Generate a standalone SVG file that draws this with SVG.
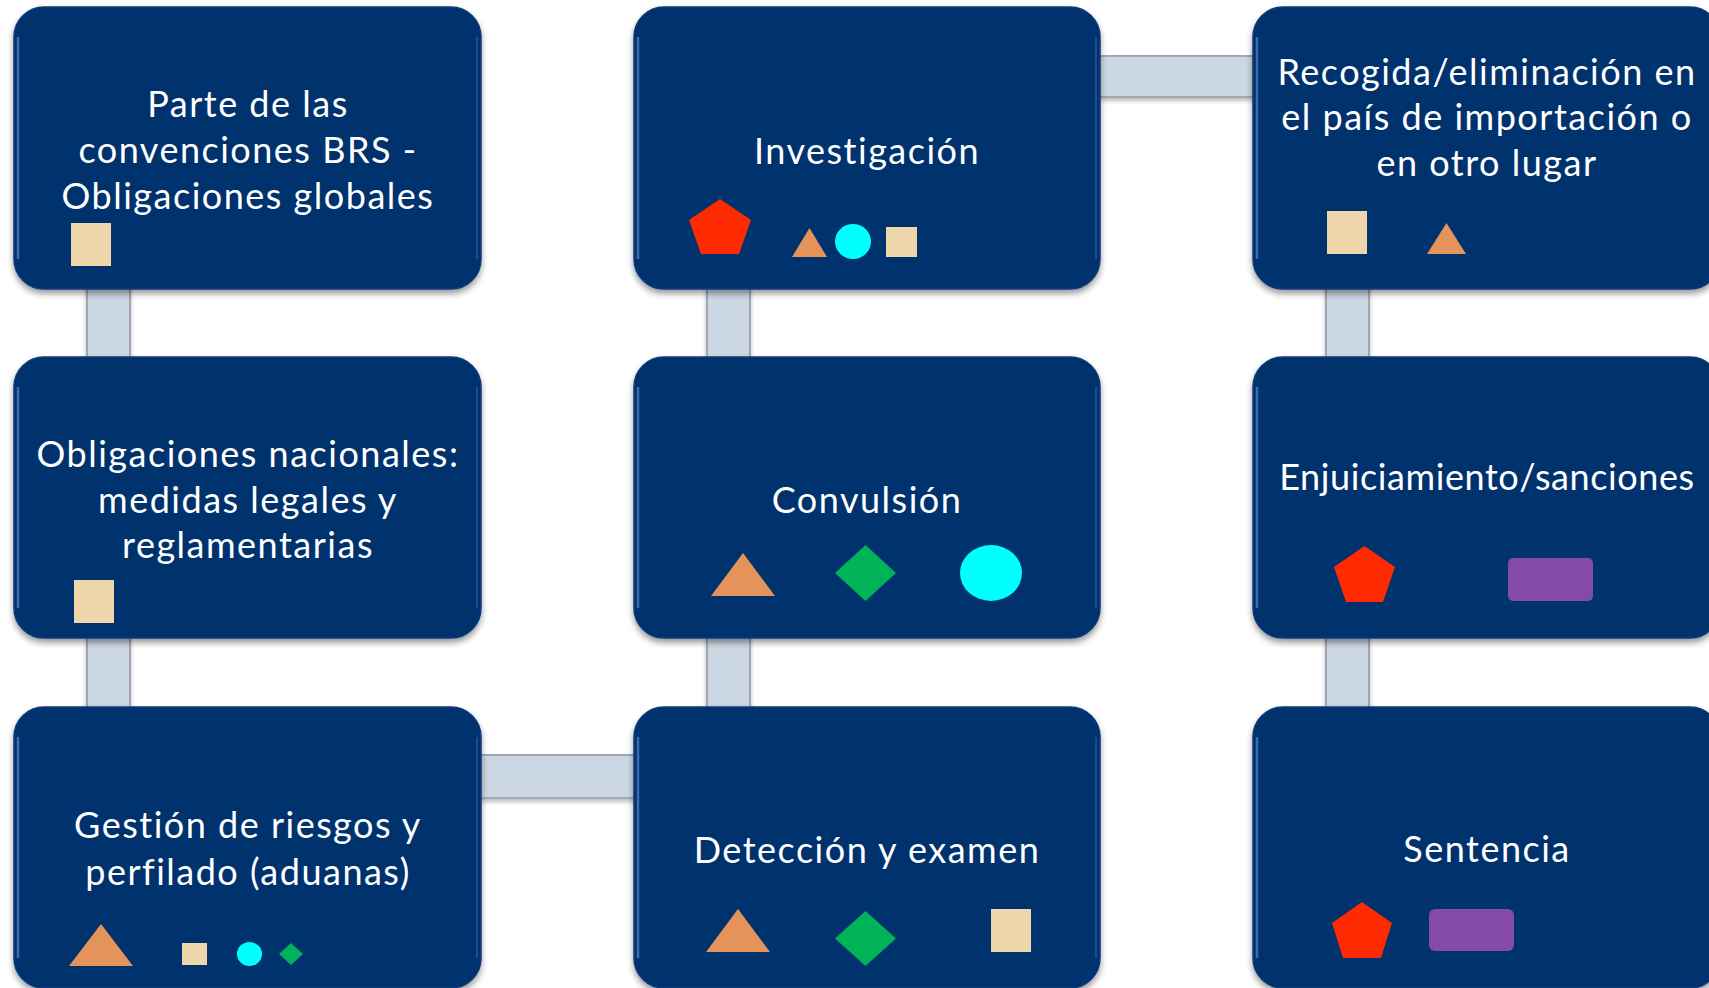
<svg xmlns="http://www.w3.org/2000/svg" width="1709" height="988" viewBox="0 0 1709 988">
<defs>
<filter id="sh" x="-5%" y="-5%" width="110%" height="115%">
<feDropShadow dx="0" dy="4" stdDeviation="3" flood-color="#000" flood-opacity="0.4"/>
</filter>
<filter id="csh" x="-10%" y="-10%" width="120%" height="130%">
<feDropShadow dx="0" dy="3" stdDeviation="2" flood-color="#000" flood-opacity="0.25"/>
</filter>
<style>
.box{fill:#00306E;stroke:#0a3a7a;stroke-width:1.5;filter:url(#sh)}
.hl{fill:none;stroke:#4f78b8;stroke-width:2.5;stroke-opacity:0.8}
.hr{fill:none;stroke:#3c66a8;stroke-width:1.5;stroke-opacity:0.7}
.con{fill:#CBD7E2;stroke:#9FA8B2;stroke-width:2;filter:url(#csh)}
.t{font-family:"Lato","Liberation Sans",sans-serif;font-size:36px;fill:#fff;text-anchor:middle;letter-spacing:1.5px}
.tan{fill:#EDD7AA}
.org{fill:#E4935A}
.cyn{fill:#00FFFF}
.grn{fill:#00B359}
.red{fill:#FF2A00}
.pur{fill:#8549AA}
</style>
</defs>
<rect width="1709" height="988" fill="#fff"/>
<g id="connectors">
<rect class="con" x="87" y="280" width="43" height="90"/>
<rect class="con" x="87" y="630" width="43" height="90"/>
<rect class="con" x="707" y="280" width="43" height="90"/>
<rect class="con" x="707" y="630" width="43" height="90"/>
<rect class="con" x="1326" y="280" width="43" height="90"/>
<rect class="con" x="1326" y="630" width="43" height="90"/>
<rect class="con" x="1090" y="56" width="175" height="41"/>
<rect class="con" x="470" y="755" width="175" height="43"/>
</g>
<g id="n1">
<rect class="box" x="14" y="7" width="467" height="282" rx="30"/>
<path class="hl" d="M18 37 V259"/>
<path class="hr" d="M477 37 V259"/>
<text class="t" x="248" y="117">Parte de las</text>
<text class="t" x="248" y="163">convenciones BRS -</text>
<text class="t" x="248" y="209">Obligaciones globales</text>
<rect class="tan" x="71" y="223" width="40" height="43"/>
</g>
<g id="n2">
<rect class="box" x="634" y="7" width="466" height="282" rx="30"/>
<path class="hl" d="M638 37 V259"/>
<path class="hr" d="M1096 37 V259"/>
<text class="t" x="867" y="164">Investigación</text>
<polygon class="red" points="720,199 751,220 739,254 701,254 689,220"/>
<polygon class="org" points="792,257 809.5,228 827,257"/>
<ellipse class="cyn" cx="853" cy="241.5" rx="18" ry="17.5"/>
<rect class="tan" x="886" y="227" width="31" height="30"/>
</g>
<g id="n3">
<rect class="box" x="1253" y="7" width="467" height="282" rx="30"/>
<path class="hl" d="M1257 37 V259"/>
<text class="t" x="1487" y="85">Recogida/eliminación en</text>
<text class="t" x="1487" y="130">el país de importación o</text>
<text class="t" x="1487" y="176">en otro lugar</text>
<rect class="tan" x="1327" y="211" width="40" height="43"/>
<polygon class="org" points="1427,254 1446.5,223 1466,254"/>
</g>
<g id="n4">
<rect class="box" x="14" y="357" width="467" height="281" rx="30"/>
<path class="hl" d="M18 387 V608"/>
<path class="hr" d="M477 387 V608"/>
<text class="t" x="248" y="467">Obligaciones nacionales:</text>
<text class="t" x="248" y="513">medidas legales y</text>
<text class="t" x="248" y="558">reglamentarias</text>
<rect class="tan" x="74" y="580" width="40" height="43"/>
</g>
<g id="n5">
<rect class="box" x="634" y="357" width="466" height="281" rx="30"/>
<path class="hl" d="M638 387 V608"/>
<path class="hr" d="M1096 387 V608"/>
<text class="t" x="867" y="513">Convulsión</text>
<polygon class="org" points="711,596 743,553 775,596"/>
<polygon class="grn" points="865.5,545 896,573 865.5,601 835,573"/>
<ellipse class="cyn" cx="991" cy="573" rx="31" ry="28"/>
</g>
<g id="n6">
<rect class="box" x="1253" y="357" width="467" height="281" rx="30"/>
<path class="hl" d="M1257 387 V608"/>
<text class="t" x="1487" y="490" style="letter-spacing:0.6px">Enjuiciamiento/sanciones</text>
<polygon class="red" points="1364.5,546 1395,567 1383,602 1346,602 1334,567"/>
<rect class="pur" x="1508" y="558" width="85" height="43" rx="5"/>
</g>
<g id="n7">
<rect class="box" x="14" y="707" width="467" height="281" rx="30"/>
<path class="hl" d="M18 737 V958"/>
<path class="hr" d="M477 737 V958"/>
<text class="t" x="248" y="838">Gestión de riesgos y</text>
<text class="t" x="248" y="885">perfilado (aduanas)</text>
<polygon class="org" points="69,966 101,924 133,966"/>
<rect class="tan" x="182" y="943" width="25" height="22"/>
<ellipse class="cyn" cx="249.5" cy="954" rx="12.5" ry="12"/>
<polygon class="grn" points="291,943 303,954 291,965 279,954"/>
</g>
<g id="n8">
<rect class="box" x="634" y="707" width="466" height="281" rx="30"/>
<path class="hl" d="M638 737 V958"/>
<path class="hr" d="M1096 737 V958"/>
<text class="t" x="867" y="863">Detección y examen</text>
<polygon class="org" points="706,952 738,909 770,952"/>
<polygon class="grn" points="865.5,911 896,938.5 865.5,966 835,938.5"/>
<rect class="tan" x="991" y="909" width="40" height="43"/>
</g>
<g id="n9">
<rect class="box" x="1253" y="707" width="467" height="281" rx="30"/>
<path class="hl" d="M1257 737 V958"/>
<text class="t" x="1487" y="862">Sentencia</text>
<polygon class="red" points="1362,902 1392,923 1381,958 1343,958 1332,923"/>
<rect class="pur" x="1429" y="909" width="85" height="42" rx="6"/>
</g>
</svg>
